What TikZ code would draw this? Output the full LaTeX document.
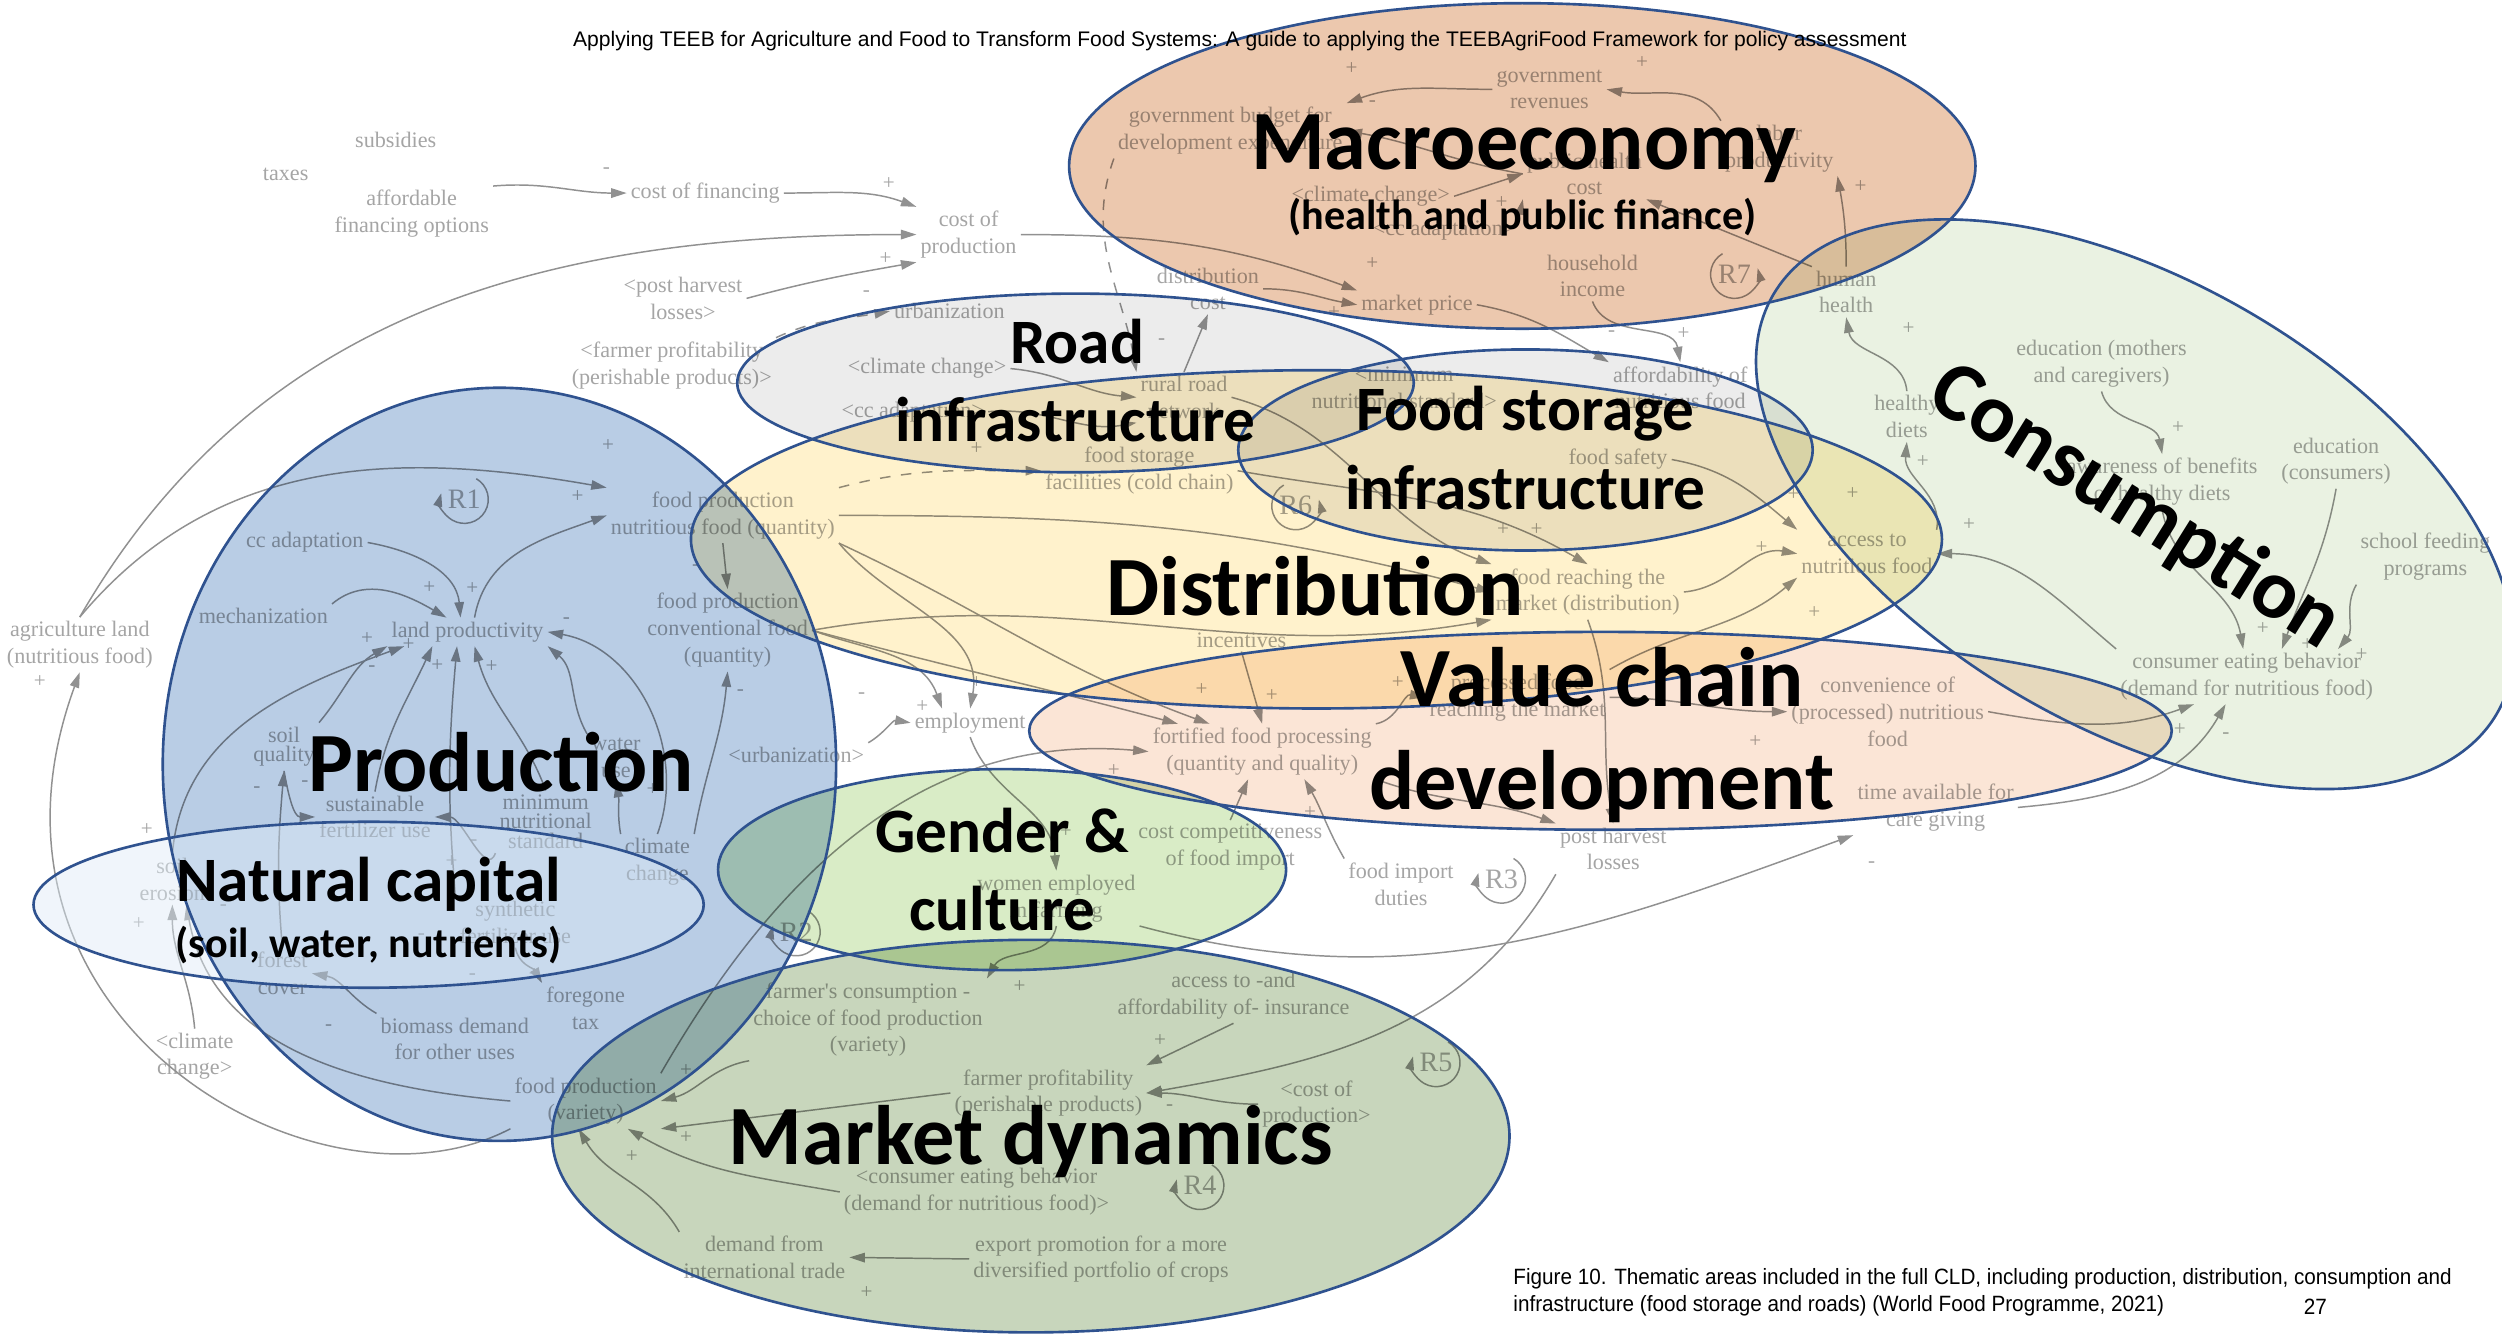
\documentclass[tikz,border=0pt]{standalone}
\usepackage{fontspec}
\usetikzlibrary{arrows.meta}
\newfontfamily\cldf{Liberation Serif}
\newfontfamily\calib{Carlito}
\newfontfamily\hdrf{Liberation Sans}
\newfontfamily\capf[FakeStretch=0.935]{Liberation Sans}
\definecolor{cldtext}{RGB}{165,165,165}
\definecolor{cldline}{RGB}{145,145,145}
\definecolor{bord}{RGB}{47,82,143}
\definecolor{macrofill}{RGB}{236,200,174}
\definecolor{consfill}{RGB}{234,242,226}
\definecolor{greyfill}{RGB}{236,236,236}
\definecolor{distfill}{RGB}{255,242,204}
\definecolor{valfill}{RGB}{251,229,214}
\definecolor{prodfill}{RGB}{185,205,229}
\definecolor{natfill}{RGB}{222,235,247}
\definecolor{gendfill}{RGB}{217,236,198}
\definecolor{markfill}{RGB}{200,214,188}
\tikzset{
 cv/.style={font={\cldf\fontsize{6.3pt}{7.6pt}\selectfont}, text=cldtext, align=center, inner sep=1pt},
 cvt/.style={font={\cldf\fontsize{6.3pt}{5.6pt}\selectfont}, text=cldtext, align=center, inner sep=1pt},
 pl/.style={font={\cldf\fontsize{6pt}{6pt}\selectfont}, text=cldtext, inner sep=0pt},
 rl/.style={font={\cldf\fontsize{8pt}{8pt}\selectfont}, text=cldtext, inner sep=0pt},
 cl/.style={draw=cldline, line width=0.42pt, -{Triangle[length=4.4pt,width=2.7pt]}},
 lpa/.style={draw=cldline, line width=0.42pt, -{Triangle[length=3.8pt,width=2.5pt]}},
 area/.style={draw=bord, line width=0.75pt},
 bigl/.style={font={\calib\bfseries\fontsize{24pt}{28pt}\selectfont}, anchor=base, inner sep=0pt},
 midl/.style={font={\calib\bfseries\fontsize{18pt}{21pt}\selectfont}, anchor=base, inner sep=0pt},
 subl/.style={font={\calib\bfseries\fontsize{12pt}{14pt}\selectfont}, anchor=base, inner sep=0pt},
 pagetxt/.style={font={\capf\fontsize{6.3pt}{7pt}\selectfont}, inner sep=0pt},
}
\begin{document}
\begin{tikzpicture}[x=0.015957cm,y=0.015957cm,yscale=-1]
\useasboundingbox (0,0) rectangle (1568,836);
\fill[white] (0,0) rectangle (1568,836);

% ---------------- CLD variables ----------------
\node[cv] (sub) at (248,88) {subsidies};
\node[cv] (tax) at (179,109) {taxes};
\node[cv] (aff) at (258,134) {affordable\\financing options};
\node[cv] (cof) at (442,121) {cost of financing};
\node[cv] (cop) at (607,147) {cost of\\production};
\node[cv] (phl1) at (428,187) {<post harvest\\losses>};
\node[cv] (fpp1) at (421,229) {<farmer profitability\\(perishable products)>};
\node[cv] (urb1) at (595,195) {urbanization};
\node[cv] (cc1) at (581,231) {<climate change>};
\node[cv] (cca1) at (572,258) {<cc adaptation>};
\node[cv] (rrn) at (742,249) {rural road\\network};
\node[cv] (dc) at (757,181) {distribution\\cost};
\node[cv] (gb) at (771,82) {government budget for\\development expenditure};
\node[cv] (gr) at (971,56) {government\\revenues};
\node[cv] (lp2) at (1115,93) {labor\\productivity};
\node[cv] (phc) at (993,109) {public health\\cost};
\node[cv] (cc2) at (859,123) {<climate change>};
\node[cv] (cca2) at (905,144) {<cc adaptation>};
\node[cv] (hi) at (998,173) {household\\income};
\node[cv] (mp) at (888,191) {market price};
\node[cv] (hh) at (1157,183) {human\\health};
\node[cv] (afn) at (1053,243) {affordability of\\nutritious food};
\node[cv] (mns) at (880,243) {<minimum\\nutritional standard>};
\node[cv] (fsf) at (714,295) {food storage\\facilities (cold chain)};
\node[cv] (fsafe) at (1014,288) {food safety};
\node[cv] (acc) at (1170,347) {access to\\nutritious food};
\node[cv] (frm) at (995,371) {food reaching the\\market (distribution)};
\node[cv] (inc) at (778,401) {incentives};
\node[cv] (prm) at (951,437) {processed food\\reaching the market};
\node[cv] (conv) at (1183,446) {convenience of\\(processed) nutritious\\food};
\node[cv] (tafc) at (1213,506) {time available for\\care giving};
\node[cv] (ceb) at (1408,424) {consumer eating behavior\\(demand for nutritious food)};
\node[cv] (awb) at (1355,302) {awareness of benefits\\of healthy diets};
\node[cv] (edm) at (1317,228) {education (mothers\\and caregivers)};
\node[cv] (edc) at (1464,289) {education\\(consumers)};
\node[cv] (sfp) at (1520,349) {school feeding\\programs};
\node[cv] (hd) at (1195,261) {healthy\\diets};
\node[cv] (fpn) at (453,323) {food production\\nutritious food (quantity)};
\node[cv] (cca3) at (191,340) {cc adaptation};
\node[cv] (mech) at (165,386) {mechanization};
\node[cv] (lpr) at (293,396) {land productivity};
\node[cv] (agl) at (50,404) {agriculture land\\(nutritious food)};
\node[cv] (fpc) at (456,395) {food production\\conventional food\\(quantity)};
\node[cv] (urb2) at (499,473) {<urbanization>};
\node[cv] (emp) at (608,453) {employment};
\node[cvt] (sq) at (178,468) {soil\\quality};
\node[cv] (wu) at (386,475) {water\\use};
\node[cv] (sfu) at (235,512) {sustainable\\fertilizer use};
\node[cvt] (mns2) at (342,515) {minimum\\nutritional\\standard};
\node[cv] (clc) at (412,540) {climate\\change};
\node[cv] (se) at (108,551) {soil\\erosion};
\node[cv] (syn) at (323,578) {synthetic\\fertilizer use};
\node[cv] (fc) at (177,610) {forest\\cover};
\node[cv] (fgt) at (367,632) {foregone\\tax};
\node[cv] (bd) at (285,651) {biomass demand\\for other uses};
\node[cv] (cc3) at (122,662) {<climate\\change>};
\node[cv] (fpv) at (367,690) {food production\\(variety)};
\node[cv] (ffp) at (791,471) {fortified food processing\\(quantity and quality)};
\node[cv] (ccf) at (771,531) {cost competitiveness\\of food import};
\node[cv] (wef) at (662,563) {women employed\\in farming};
\node[cv] (fid) at (878,554) {food import\\duties};
\node[cv] (phl2) at (1011,532) {post harvest\\losses};
\node[cv] (ins) at (773,624) {access to -and\\affordability of- insurance};
\node[cv] (fcc) at (544,639) {farmer's consumption -\\choice of food production\\(variety)};
\node[cv] (fpp2) at (657,685) {farmer profitability\\(perishable products)};
\node[cv] (cop2) at (825,692) {<cost of\\production>};
\node[cv] (ceb2) at (612,747) {<consumer eating behavior\\(demand for nutritious food)>};
\node[cv] (dit) at (479,788) {demand from\\international trade};
\node[cv] (exp) at (690,789) {export promotion for a more\\diversified portfolio of crops};

% loops
\node[rl] (r1) at (291,313) {R1};
\node[rl] (r2) at (499,584) {R2};
\node[rl] (r3) at (941,551) {R3};
\node[rl] (r4) at (752,743) {R4};
\node[rl] (r5) at (900,666) {R5};
\node[rl] (r6) at (812,317) {R6};
\node[rl] (r7) at (1087,172) {R7};
\foreach \r in {r1,r2,r3,r4,r5}
  \draw[lpa] ([shift={(-60:15)}]\r.center) arc[start angle=-60, end angle=195, radius=15];
\foreach \r in {r6,r7}
  \draw[lpa] ([shift={(-120:15)}]\r.center) arc[start angle=-120, end angle=-375, radius=15];

% polarities
\foreach \px/\py/\s [count=\i] in {380/107/-, 557/115/+, 555/162/+, 543/184/-, 847/43/+, 860/65/-, 1029/39/+, 1166/117/+, 941/127/+, 860/165/+, 836/196/+, 1010/209/-, 1055/209/+, 728/214/-, 1196/206/+, 1205/289/+, 1234/329/+, 1365/268/+, 1418/394/+, 1446/404/+, 1480/410/+, 1366/457/+, 1395/461/-, 1173/542/-, 1104/343/+, 1137/384/+, 1124/310/+, 963/332/+, 942/332/+, 1161/309/+, 1100/465/+, 876/428/+, 797/436/+, 821/509/+, 753/432/+, 698/483/+, 668/521/+, 612/428/+, 578/443/+, 540/436/-, 464/434/-, 436/356/-, 409/495/+, 381/279/+, 362/311/+, 269/368/+, 296/369/+, 355/389/-, 230/400/+, 233/419/-, 256/404/+, 274/417/+, 308/418/+, 161/495/-, 191/491/-, 92/520/+, 283/540/+, 297/528/-, 25/427/+, 87/579/+, 140/569/-, 206/644/-, 296/612/-, 335/611/+, 264/587/-, 639/618/+, 430/671/+, 430/713/+, 396/725/+, 727/652/+, 733/694/-, 543/810/+, 612/281/+}
  \node[pl] (pol\i) at (\px,\py) {\s};

% ---------------- CLD links ----------------
\draw[cl] (aff.north east) to[out=-5,in=180] (cof.west);
\draw[cl] (cof.east) to[out=0,in=200] (cop.north west);
\draw[cl] (agl.north) to[out=-60,in=180] (cop.west);
\draw[cl] (phl1.east) to[out=-15,in=170] (cop.south west);
\draw[cl,dashed] (fpp1.north east) to[out=-25,in=170] (urb1.west);
\draw[cl] (cop.east) to[out=0,in=200] (mp.north west);
\draw[cl] (gr.west) to[out=180,in=-20] (gb.north east);
\draw[cl] (lp2.north west) to[out=-120,in=10] (gr.east);
\draw[cl] (phc.west) to[out=190,in=10] (gb.east);
\draw[cl] (cc2.east) -- (phc.west);
\draw[cl] (cca2.north east) -- (phc.south west);
\draw[cl] (hh.north west) -- (phc.south east);
\draw[cl] (hh.north) to[out=-90,in=80] (lp2.south east);
\draw[cl] (dc.east) to[out=0,in=190] (mp.west);
\draw[cl,dashed] (gb.south west) to[out=110,in=-100] (rrn.north west);
\draw[cl] (rrn.north) -- (dc.south);
\draw[cl] (cc1.east) to[out=5,in=185] (rrn.west);
\draw[cl] (cca1.east) to[out=-5,in=170] (rrn.south west);
\draw[cl] (mp.east) to[out=10,in=-150] (afn.north west);
\draw[cl] (hi.south) to[out=70,in=-100] (afn.north);
\draw[cl,dashed] (fpn.north east) to[out=-15,in=180] (fsf.west);
\draw[cl] (fpn.east) to[out=0,in=195] (frm.west);
\draw[cl] (fpc.east) to[out=-10,in=170] (frm.south west);
\draw[cl] (rrn.east) to[out=15,in=200] (frm.north west);
\draw[cl] (fsf.east) to[out=10,in=210] (frm.north);
\draw[cl] (frm.east) to[out=-5,in=190] (acc.west);
\draw[cl] (fsafe.east) to[out=10,in=-140] (acc.north west);
\draw[cl] (prm.north east) to[out=-30,in=140] (acc.south west);
\draw[cl] (ceb.north west) to[out=-140,in=0] (acc.east);
\draw[cl] (acc.north east) to[out=-80,in=95] (hd.south);
\draw[cl] (hd.north) to[out=-95,in=80] (hh.south);
\draw[cl] (edm.south) to[out=75,in=-100] (awb.north);
\draw[cl] (awb.south) to[out=80,in=-100] ([xshift=-1pt]ceb.north);
\draw[cl] (edc.south) to[out=100,in=-70] ([xshift=10pt]ceb.north);
\draw[cl] (sfp.south west) to[out=120,in=-50] ([xshift=26pt]ceb.north);
\draw[cl] (conv.east) to[out=10,in=160] ([xshift=-15pt]ceb.south);
\draw[cl] (tafc.east) to[out=-5,in=120] ([xshift=-6pt]ceb.south);
\draw[cl] (prm.east) to[out=0,in=180] (conv.west);
\draw[cl] (ffp.north east) to[out=-10,in=190] (prm.west);
\draw[cl] (inc.south) -- (ffp.north);
\draw[cl] (fpn.south east) to[out=25,in=-160] ([xshift=-15pt]ffp.north);
\draw[cl] (fpc.east) to[out=15,in=-165] ([xshift=-24pt]ffp.north);
\draw[cl] (fpn.south east) to[out=50,in=-80] (emp.north);
\draw[cl] (fpc.east) to[out=20,in=-110] ([xshift=-8pt]emp.north);
\draw[cl] (urb2.north east) to[out=-30,in=190] (emp.west);
\draw[cl] (emp.south) to[out=70,in=-95] (wef.north);
\draw[cl] (fpv.north east) to[out=-60,in=185] (ffp.west);
\draw[cl] (ccf.north) -- ([xshift=-4pt]ffp.south);
\draw[cl] (fid.north west) to[out=-120,in=60] ([xshift=12pt]ffp.south);
\draw[cl] (frm.south) to[out=70,in=-100] (phl2.north);
\draw[cl] (ffp.south east) to[out=20,in=-160] (phl2.north west);
\draw[cl] (phl2.south west) to[out=120,in=-10] (fpp2.east);
\draw[cl] (ins.south) -- (fpp2.north east);
\draw[cl] (cop2.west) to[out=180,in=0] (fpp2.east);
\draw[cl] (wef.south east) to[out=15,in=160] (tafc.south west);
\draw[cl] (wef.south) to[out=100,in=-60] (fcc.north east);
\draw[cl] (fcc.south west) to[out=170,in=-15] (fpv.east);
\draw[cl] (fpp2.west) -- (fpv.south east);
\draw[cl] (ceb2.west) to[out=190,in=30] ([xshift=12pt]fpv.south);
\draw[cl] (dit.north west) to[out=-120,in=60] ([xshift=-2pt]fpv.south);
\draw[cl] (exp.west) -- (dit.east);
\draw[cl] (agl.north) to[out=-50,in=190] (fpn.north west);
\draw[cl] (mech.north east) to[out=-40,in=210] ([xshift=-6pt]lpr.north);
\draw[cl] (cca3.east) to[out=10,in=-95] ([xshift=-2pt]lpr.north);
\draw[cl] ([xshift=2pt]lpr.north) to[out=-80,in=160] (fpn.west);
\draw[cl] (sq.north east) to[out=-50,in=150] (lpr.south west);
\draw[cl] (se.north) to[out=-85,in=160] ([xshift=-18pt]lpr.south);
\draw[cl] (sfu.north) to[out=-80,in=115] ([xshift=-10pt]lpr.south);
\draw[cl] (syn.north west) to[out=-95,in=95] ([xshift=-3pt]lpr.south);
\draw[cl] (mns2.north) to[out=-110,in=75] ([xshift=2pt]lpr.south);
\draw[cl] (wu.north west) to[out=-120,in=40] (lpr.south east);
\draw[cl] (clc.north) to[out=-70,in=10] (lpr.east);
\draw[cl] (fpn.south) -- (fpc.north);
\draw[cl] (clc.north east) to[out=-80,in=95] (fpc.south);
\draw[cl] (clc.north west) to[out=-100,in=80] (wu.south);
\draw[cl] (sq.south) to[out=80,in=180] (sfu.west);
\draw[cl] (fc.north) to[out=-95,in=95] (sq.south);
\draw[cl] (bd.north west) to[out=-150,in=10] (fc.east);
\draw[cl] (cc3.north) to[out=-95,in=90] (se.south);
\draw[cl] (fpv.west) to[out=185,in=80] ([xshift=4pt]se.south);
\draw[cl] (fpv.south west) .. controls (200,770) and (-30,640) .. (agl.south);
\draw[cl] (syn.south) to[out=80,in=-120] (fgt.north west);
\draw[cl] (mns2.south west) to[out=110,in=0] (sfu.east);

% ---------------- thematic areas ----------------
\begin{scope}[blend mode=multiply]
\fill[macrofill] (954,104) ellipse [x radius=284, y radius=102];
\fill[consfill, rotate around={30:(1338,316)}] (1338,316) ellipse [x radius=262, y radius=140];
\fill[distfill] (825,338) ellipse [x radius=392, y radius=106];
\fill[greyfill] (674,240) ellipse [x radius=212, y radius=56];
\fill[greyfill] (956,282) ellipse [x radius=180, y radius=63];
\fill[valfill] (1003,458) ellipse [x radius=358, y radius=62];
\fill[prodfill] (313,479) ellipse [x radius=211, y radius=236];
\fill[gendfill] (628,545) ellipse [x radius=178, y radius=63];
\fill[markfill] (646,712) ellipse [x radius=300, y radius=123];
\end{scope}
\fill[natfill, fill opacity=0.45] (231,567) ellipse [x radius=210, y radius=52];

\draw[area] (954,104) ellipse [x radius=284, y radius=102];
\draw[area, rotate around={30:(1338,316)}] (1338,316) ellipse [x radius=262, y radius=140];
\draw[area] (825,338) ellipse [x radius=392, y radius=106];
\draw[area] (674,240) ellipse [x radius=212, y radius=56];
\draw[area] (956,282) ellipse [x radius=180, y radius=63];
\draw[area] (1003,458) ellipse [x radius=358, y radius=62];
\draw[area] (313,479) ellipse [x radius=211, y radius=236];
\draw[area] (231,567) ellipse [x radius=210, y radius=52];
\draw[area] (628,545) ellipse [x radius=178, y radius=63];
\draw[area] (646,712) ellipse [x radius=300, y radius=123];

% ---------------- area labels ----------------
\node[bigl] (lmacro) at (955,106) {Macroeconomy};
\node[subl] (lmacro2) at (954,144) {(health and public finance)};
\node[midl] (lroad1) at (675,228) {Road};
\node[midl] (lroad2) at (674,277) {infrastructure};
\node[midl] (lfs1) at (956,270) {Food storage};
\node[midl] (lfs2) at (956,319) {infrastructure};
\node[bigl] (ldist) at (824,386) {Distribution};
\node[bigl] (lval1) at (1004,443) {Value chain};
\node[bigl] (lval2) at (1004,507) {development};
\node[bigl] (lprod) at (314,496) {Production};
\node[midl] (lnat1) at (231,565) {Natural capital};
\node[subl] (lnat2) at (231,600) {(soil, water, nutrients)};
\node[midl] (lgen1) at (628,534) {Gender \&};
\node[midl] (lgen2) at (628,583) {culture};
\node[bigl] (lmark) at (646,730) {Market dynamics};
\node[bigl, anchor=center, rotate=-32] (lcons) at (1338,318) {Consumption};

% ---------------- page texts ----------------
\node[font={\hdrf\fontsize{6pt}{7pt}\selectfont}, anchor=base, inner sep=0pt] (hdr) at (777,29) {Applying TEEB for Agriculture and Food to Transform Food Systems: A guide to applying the TEEBAgriFood Framework for policy assessment};
\node[pagetxt, anchor=base west] (cap1) at (948,805) {Figure 10. Thematic areas included in the full CLD, including production, distribution, consumption and};
\node[pagetxt, anchor=base west] (cap2) at (948,822) {infrastructure (food storage and roads) (World Food Programme, 2021)};
\node[pagetxt, anchor=base] (pgno) at (1451,824) {27};
\end{tikzpicture}
\end{document}
